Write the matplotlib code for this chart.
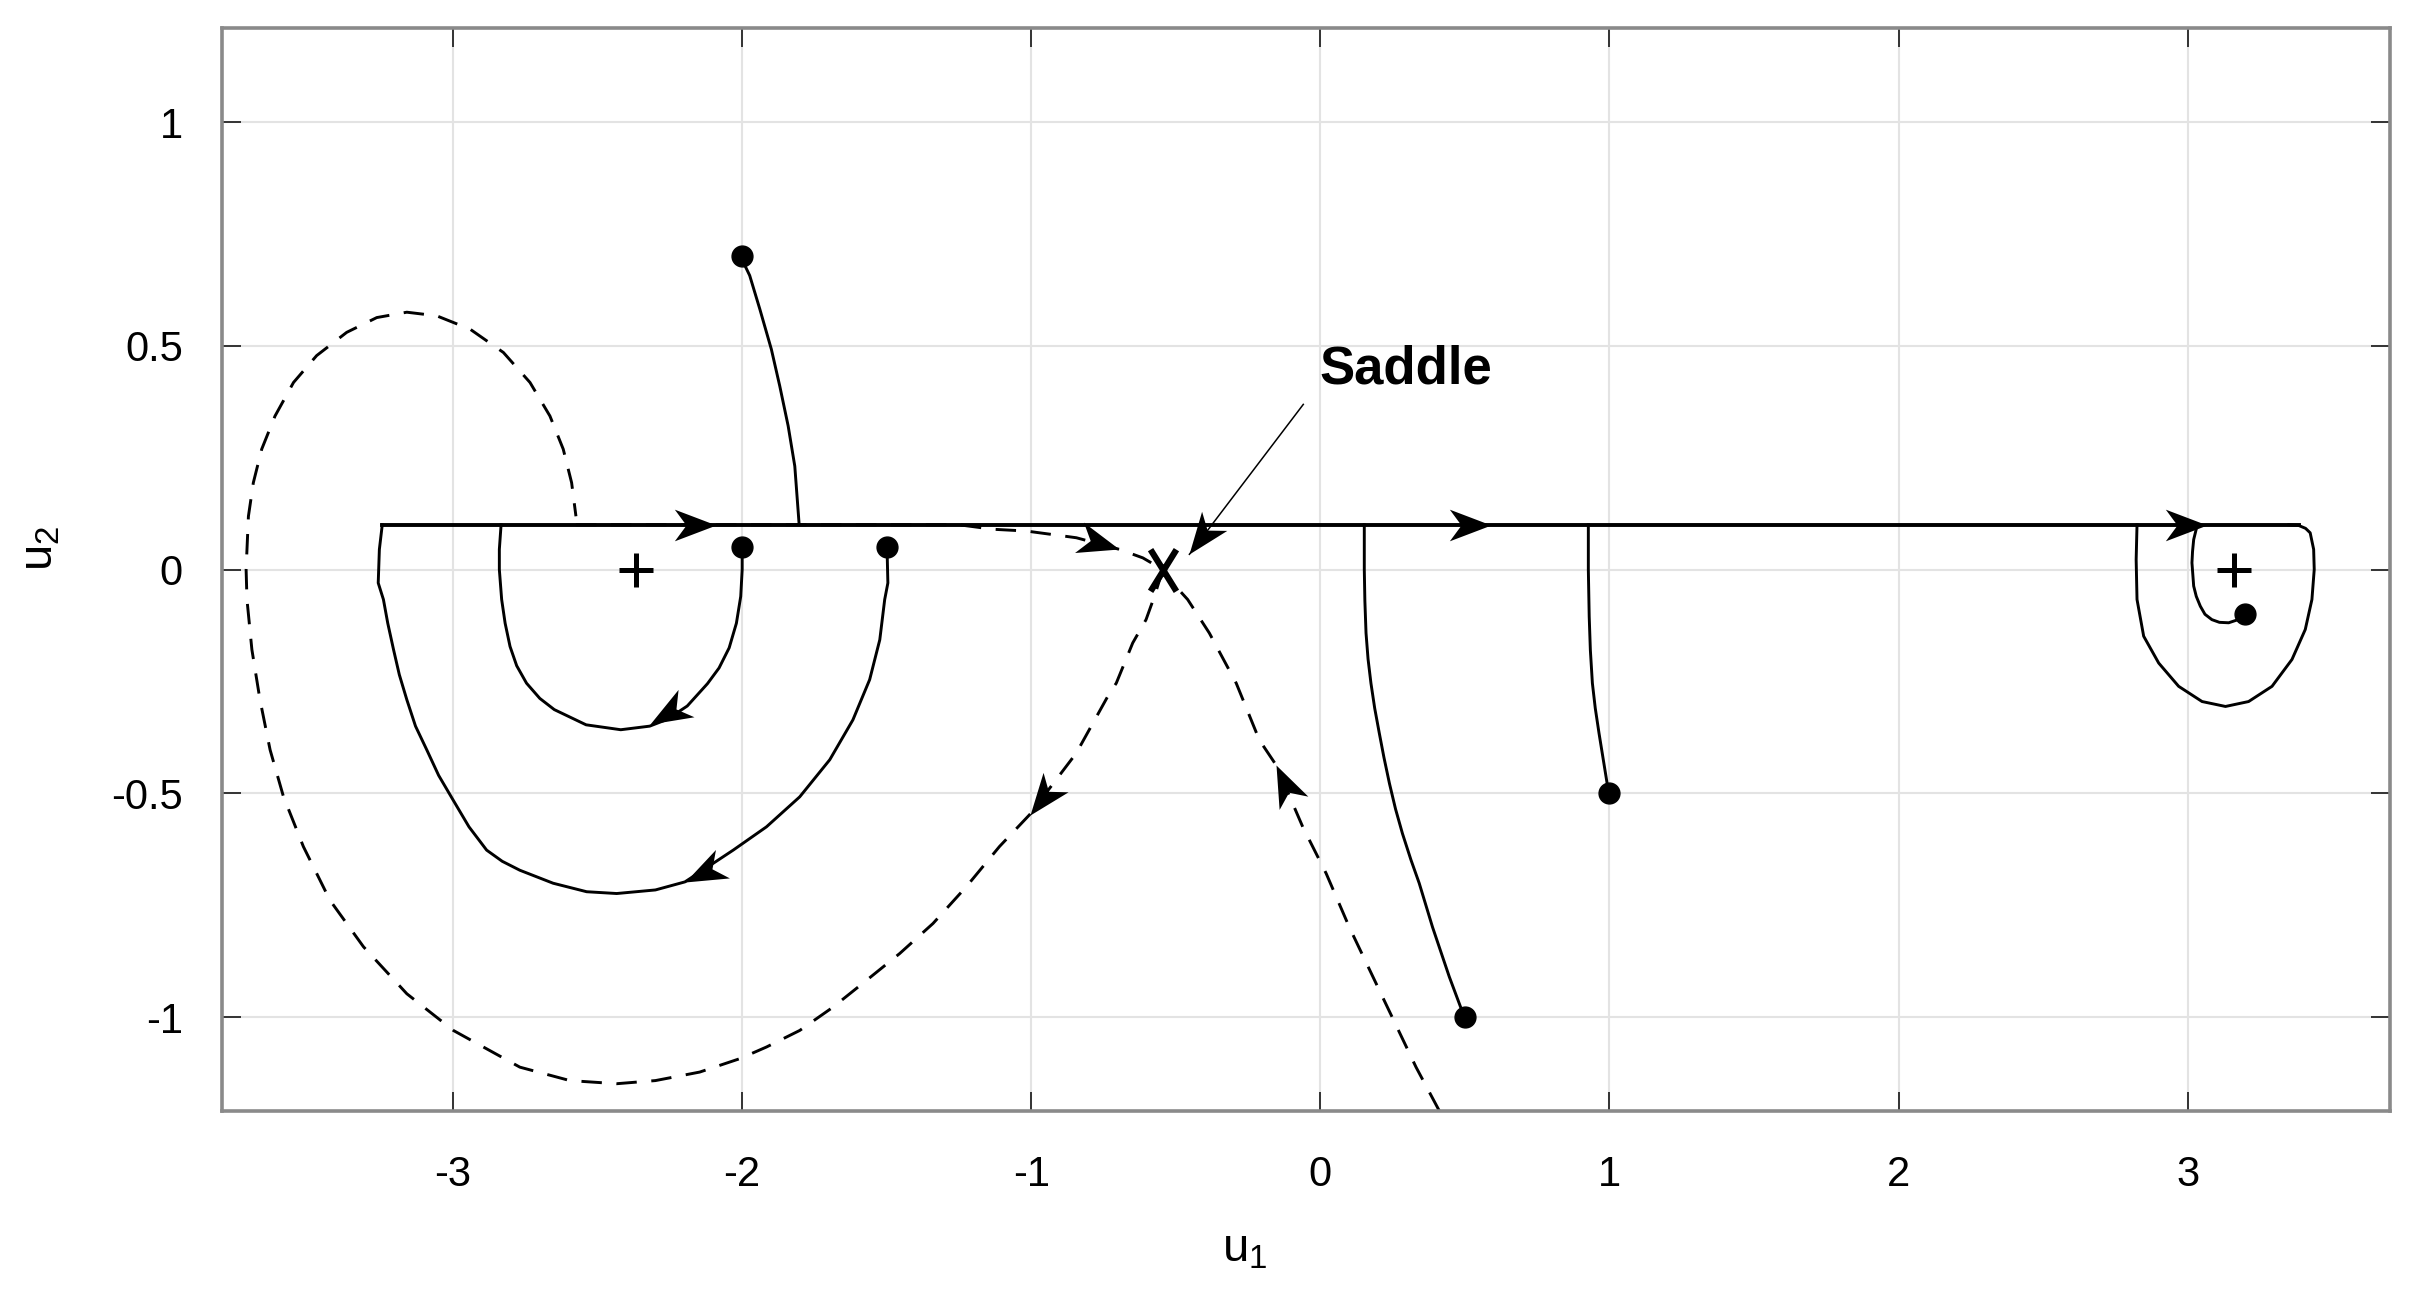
import numpy as np
import matplotlib
matplotlib.use('Agg')
import matplotlib.pyplot as plt
from matplotlib.markers import MarkerStyle
from matplotlib.path import Path
from matplotlib.transforms import Affine2D

plt.rcParams['font.family'] = ['Liberation Sans', 'DejaVu Sans']

# sliding line u2 = 0.1
line_u1 = [-3.245, 3.384]
line_u2 = [0.1, 0.1]

# solid trajectories (u1, u2)
traj_a_u1 = [-2.006, -1.974, -1.939, -1.899, -1.870, -1.841, -1.818, -1.803]
traj_a_u2 = [0.700, 0.657, 0.582, 0.492, 0.410, 0.321, 0.231, 0.101]

traj_b_u1 = [-2.00, -2.00, -2.005, -2.02, -2.045, -2.08, -2.12, -2.19, -2.26, -2.32, -2.42,
             -2.54, -2.65, -2.70, -2.746, -2.78, -2.803, -2.82, -2.832, -2.840, -2.840, -2.834]
traj_b_u2 = [0.05, 0.0, -0.06, -0.12, -0.175, -0.22, -0.255, -0.305, -0.335, -0.35, -0.358,
             -0.347, -0.313, -0.288, -0.254, -0.215, -0.172, -0.12, -0.067, 0.0, 0.045, 0.1]

traj_c_u1 = [-1.499, -1.496, -1.507, -1.524, -1.559, -1.617, -1.697, -1.801, -1.916, -2.031,
             -2.12, -2.198, -2.30, -2.434, -2.538, -2.654, -2.769, -2.830, -2.884, -2.945, -3.000,
             -3.050, -3.091, -3.130, -3.160, -3.186, -3.206, -3.226, -3.241, -3.259, -3.255, -3.245]
traj_c_u2 = [0.05, -0.030, -0.067, -0.157, -0.246, -0.336, -0.425, -0.508, -0.575, -0.627,
             -0.665, -0.698, -0.716, -0.724, -0.720, -0.701, -0.672, -0.652, -0.627, -0.575, -0.515,
             -0.46, -0.403, -0.35, -0.291, -0.235, -0.179, -0.12, -0.067, -0.030, 0.045, 0.100]

traj_d_u1 = [0.498, 0.446, 0.388, 0.342, 0.3135, 0.284, 0.260, 0.239, 0.220, 0.204, 0.188, 0.175,
             0.165, 0.158, 0.154, 0.152, 0.152]
traj_d_u2 = [-1.0, -0.910, -0.799, -0.701, -0.649, -0.590, -0.535, -0.478, -0.42, -0.366, -0.31, -0.254,
             -0.20, -0.142, -0.07, 0.0, 0.1]

traj_e_u1 = [0.997, 0.980, 0.964, 0.951, 0.941, 0.934, 0.930, 0.927, 0.927]
traj_e_u2 = [-0.498, -0.43, -0.366, -0.31, -0.254, -0.18, -0.105, 0.0, 0.1]

traj_f_u1 = [3.194, 3.170, 3.142, 3.110, 3.084, 3.060, 3.044, 3.030, 3.021, 3.015, 3.017, 3.021, 3.032]
traj_f_u2 = [-0.10, -0.113, -0.119, -0.118, -0.112, -0.100, -0.082, -0.060, -0.037, 0.015, 0.04, 0.067, 0.096]

loop_u1 = [3.35, 3.384, 3.408, 3.424, 3.436, 3.438, 3.430, 3.407, 3.361, 3.292, 3.211, 3.131, 3.050,
           2.969, 2.900, 2.848, 2.825, 2.822, 2.825]
loop_u2 = [0.1, 0.0985, 0.092, 0.082, 0.045, 0.0, -0.067, -0.134, -0.201, -0.261, -0.295, -0.306, -0.295,
           -0.261, -0.209, -0.149, -0.067, 0.022, 0.1]

# dashed separatrices
sep_a_u1 = [-0.545, -0.574, -0.603, -0.649, -0.706, -0.729, -0.844, -1.006, -1.110, -1.225, -1.340,
            -1.455, -1.570, -1.686, -1.801, -1.916, -2.008, -2.147, -2.30, -2.434, -2.596, -2.769,
            -2.999, -3.160, -3.310, -3.426, -3.518, -3.587, -3.633, -3.668, -3.696, -3.713, -3.716,
            -3.708, -3.691, -3.662, -3.616, -3.552, -3.472, -3.368, -3.264, -3.160, -3.057, -2.941,
            -2.826, -2.734, -2.665, -2.619, -2.590, -2.575]
sep_a_u2 = [0.0, -0.060, -0.112, -0.164, -0.254, -0.276, -0.410, -0.548, -0.619, -0.709, -0.791,
            -0.858, -0.918, -0.978, -1.030, -1.067, -1.093, -1.123, -1.142, -1.149, -1.142, -1.112,
            -1.030, -0.948, -0.843, -0.739, -0.619, -0.507, -0.403, -0.291, -0.179, -0.067, 0.0,
            0.119, 0.194, 0.269, 0.343, 0.418, 0.478, 0.530, 0.563, 0.575, 0.567, 0.537,
            0.485, 0.418, 0.343, 0.269, 0.194, 0.119]

sep_b_u1 = [-2.575, -1.25, -1.133, -1.017, -0.844, -0.695, -0.614, -0.545]
sep_b_u2 = [0.1, 0.1, 0.090, 0.086, 0.071, 0.045, 0.026, 0.0]

sep_c_u1 = [0.411, 0.331, 0.215, 0.100, 0.020, -0.061, -0.153, -0.211, -0.291, -0.384, -0.459, -0.511, -0.545]
sep_c_u2 = [-1.209, -1.112, -0.955, -0.799, -0.679, -0.575, -0.437, -0.381, -0.254, -0.142, -0.067, -0.030, 0.0]

# start points, equilibria
start_u1 = [-2.0, -2.0, -1.5, 0.5, 1.0, 3.2]
start_u2 = [0.7, 0.05, 0.05, -1.0, -0.5, -0.1]
stable_u1 = [-2.367, 3.162]
stable_u2 = [0.0, 0.0]
saddle_u1 = [-0.545]
saddle_u2 = [0.0]

# arrow heads: tip u1, tip u2, tail u1, tail u2
arrows = [
    (-2.09, 0.1, -2.3, 0.1),
    (0.59, 0.1, 0.4, 0.1),
    (3.066, 0.1, 2.9, 0.1),
    (-2.32, -0.345, -2.20, -0.30),
    (-2.198, -0.698, -2.084, -0.662),
    (-1.006, -0.548, -0.923, -0.479),
    (-0.153, -0.437, -0.090, -0.525),
    (-0.695, 0.045, -0.822, 0.069),
    (-0.453, 0.034, -0.059, 0.369),
]

fig = plt.figure(figsize=(24.19, 13.10), dpi=100)
ax = fig.add_axes([0.0917, 0.1519, 0.8963, 0.8267])
ax.set_xlim(-3.8, 3.7)
ax.set_ylim(-1.21, 1.21)
ax.set_xticks([-3, -2, -1, 0, 1, 2, 3])
ax.set_xticklabels(['-3', '-2', '-1', '0', '1', '2', '3'])
ax.set_yticks([-1, -0.5, 0, 0.5, 1])
ax.set_yticklabels(['-1', '-0.5', '0', '0.5', '1'])
ax.grid(True, color='#e3e3e3', lw=1.5)
ax.set_axisbelow(True)
for s in ax.spines.values():
    s.set_color('#8a8a8a')
    s.set_linewidth(2.6)
ax.tick_params(direction='in', length=14, width=1.4, color='#333333',
               top=True, right=True, labelsize=30)
ax.tick_params(axis='x', pad=32)
ax.tick_params(axis='y', pad=28)

lw = 2.1
dash = (0, (7, 5))
ax.plot(line_u1, line_u2, color='black', lw=2.8)
for xs, ys in [(traj_a_u1, traj_a_u2), (traj_b_u1, traj_b_u2), (traj_c_u1, traj_c_u2),
               (traj_d_u1, traj_d_u2), (traj_e_u1, traj_e_u2), (traj_f_u1, traj_f_u2),
               (loop_u1, loop_u2)]:
    ax.plot(xs, ys, color='black', lw=lw)
for xs, ys in [(sep_a_u1, sep_a_u2), (sep_b_u1, sep_b_u2), (sep_c_u1, sep_c_u2)]:
    ax.plot(xs, ys, color='black', lw=lw, linestyle=dash)

ax.plot(start_u1, start_u2, 'o', color='black', ms=15)
ax.plot(stable_u1, stable_u2, '+', color='black', ms=24, mew=3.6)
xpath = Path([(-0.62, -1), (0.62, 1), (-0.62, 1), (0.62, -1)],
             [Path.MOVETO, Path.LINETO, Path.MOVETO, Path.LINETO])
ax.plot(saddle_u1, saddle_u2, marker=xpath, color='black', ms=30, mew=4.5,
        mfc='none', linestyle='none')

# annotation line to saddle
ax.plot([arrows[-1][2], arrows[-1][0]], [arrows[-1][3], arrows[-1][1]], color='black', lw=1.1)
ax.text(-0.003, 0.448, 'Saddle', fontsize=38, fontweight='bold', ha='left', va='center')

head = Path([(0, 0), (-1, 0.38), (-0.72, 0), (-1, -0.38), (0, 0)],
            [Path.MOVETO, Path.LINETO, Path.LINETO, Path.LINETO, Path.CLOSEPOLY])
for tx, ty, fx, fy in arrows:
    p1 = ax.transData.transform((fx, fy))
    p2 = ax.transData.transform((tx, ty))
    ang = np.degrees(np.arctan2(p2[1] - p1[1], p2[0] - p1[0]))
    m = MarkerStyle(head, transform=Affine2D().rotate_deg(ang))
    ax.plot([tx], [ty], marker=m, color='black', ms=60, mew=0, linestyle='none')

ax.set_xlabel('u$\\mathregular{_1}$', fontsize=34)
ax.set_ylabel('u$\\mathregular{_2}$', fontsize=34)
ax.xaxis.set_label_coords(0.472, -0.108)
ax.yaxis.set_label_coords(-0.0737, 0.52)

fig.savefig('out.png', dpi=100)
